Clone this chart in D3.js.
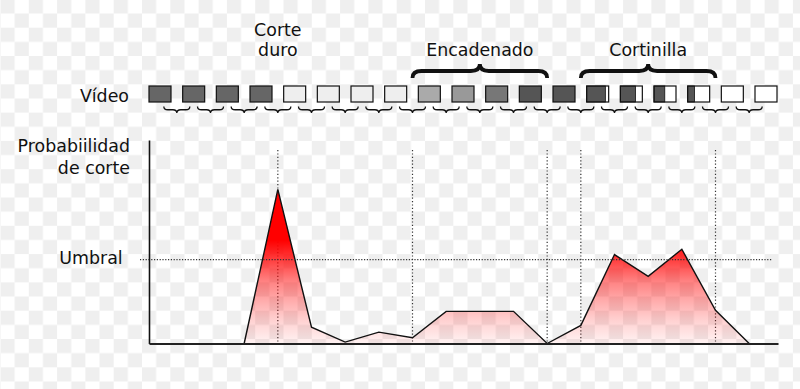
<!DOCTYPE html>
<html>
<head>
<meta charset="utf-8">
<script src="https://cdn.jsdelivr.net/npm/d3@7"></script>
<style>
  html,body{margin:0;padding:0;background:#fff;}
  svg text{font-family:"DejaVu Sans",sans-serif;font-size:17.4px;fill:#111;}
</style>
</head>
<body>
<div id="Chart"></div>
<script>
// frames of the video strip (1..19)
const frameIds = d3.range(1, 20)
const frameFill = ["#666","#666","#666","#666","#eee","#eee","#eee","#eee","#aaa","#999","#777","#555","#555","#555","#555","#555","#555","#fff","#fff"]
const frameWipe = [1,1,1,1,1,1,1,1,1,1,1,1,1,0.85,0.69,0.49,0.31,1,1]

// cut probability, measured at the gap after frame i
const gapIds = [3,4,5,6,7,8,9,10,11,12,13,14,15,16,17,18]
const cutProb = [0,0.757,0.08,0.007,0.056,0.028,0.158,0.158,0.158,0,0.089,0.437,0.33,0.463,0.163,0]
const threshold = 0.412

// transitions
const transLabels = [["Corte","duro"],["Encadenado"],["Cortinilla"]]
const transStart = [4, 8, 13]
const transEnd = [4, 12, 17]
const markerGaps = [4, 8, 12, 13, 17]

const Width = 800, Height = 389
const svg = d3.select("#Chart").append("svg")
    .attr("width", Width).attr("height", Height)

var defs = svg.append("defs")
var pat = defs.append("pattern") //fake transparency background
    .attr("id","checker").attr("patternUnits","userSpaceOnUse")
    .attr("x",0.5).attr("y",-0.6).attr("width",28.3).attr("height",28.3)
pat.append("rect").attr("width",28.3).attr("height",28.3).attr("fill","#fff")
pat.append("rect").attr("width",14.15).attr("height",14.15).attr("fill","#efefef")
pat.append("rect").attr("x",14.15).attr("y",14.15).attr("width",14.15).attr("height",14.15).attr("fill","#efefef")
svg.append("rect").attr("width",Width).attr("height",Height).attr("fill","url(#checker)")

var X = d3.scaleLinear().domain([1,19]).range([160,766])
var Y = d3.scaleLinear().domain([0,1]).range([343.5,140])
var gx = g => X(g + 0.5)
var fw = 22, fh = 16, fy = 86

// red fade under the curve
var grad = defs.append("linearGradient").attr("id","fade")
    .attr("gradientUnits","userSpaceOnUse")
    .attr("x1",0).attr("x2",0).attr("y1",Y(d3.max(cutProb))).attr("y2",Y(0))
;[[0,1],[0.33,1],[0.46,0.75],[0.59,0.5],[0.72,0.33],[0.85,0.18],[1,0.05]].forEach(s=>{
  grad.append("stop").attr("offset",s[0]).attr("stop-color","#ff0000").attr("stop-opacity",s[1])
})

// video strip
svg.append("text").attr("x",129).attr("y",101.7).attr("text-anchor","end").text("Vídeo")
var fr = svg.append("g").selectAll("g").data(frameIds).enter().append("g")
fr.append("rect")
    .attr("x",d=>X(d)-fw/2).attr("y",fy).attr("width",fw).attr("height",fh)
    .attr("fill","#fff")
fr.append("rect")
    .attr("x",d=>X(d)-fw/2).attr("y",fy)
    .attr("width",(d,i)=>fw*frameWipe[i]).attr("height",fh)
    .attr("fill",(d,i)=>frameFill[i])
    .attr("stroke",(d,i)=>frameWipe[i]<1?"#111":"none").attr("stroke-width",0.8)
fr.append("rect")
    .attr("x",d=>X(d)-fw/2).attr("y",fy).attr("width",fw).attr("height",fh)
    .attr("fill","none").attr("stroke","#111").attr("stroke-width",1.2)

// brace path, dir=1 tip down, dir=-1 tip up
function brace(x0,x1,yArm,h,r,dir){
  var xm=(x0+x1)/2, yBar=yArm+dir*h/2, yTip=yArm+dir*h
  return `M${x0},${yArm}Q${x0},${yBar} ${x0+r},${yBar}L${xm-r},${yBar}Q${xm},${yBar} ${xm},${yTip}`+
         `Q${xm},${yBar} ${xm+r},${yBar}L${x1-r},${yBar}Q${x1},${yBar} ${x1},${yArm}`
}
svg.append("g").selectAll("path").data(d3.range(1,19)).enter().append("path")
    .attr("d",g=>brace(gx(g)-13,gx(g)+13,106.5,6.5,4,1))
    .attr("fill","none").attr("stroke","#111").attr("stroke-width",1.3)

// transition labels and big braces
transLabels.forEach((lab,i)=>{
  var cx=(gx(transStart[i])+gx(transEnd[i]))/2
  var top = 56 - (lab.length-1)*20.5
  lab.forEach((t,j)=>{
    svg.append("text").attr("x",cx).attr("y",top+j*20.5).attr("text-anchor","middle").text(t)
  })
  if(transEnd[i]>transStart[i]){
    svg.append("path")
      .attr("d",brace(gx(transStart[i]),gx(transEnd[i]),78,14,9,-1))
      .attr("fill","none").attr("stroke","#111").attr("stroke-width",3.8)
  }
})

// markers
svg.append("g").selectAll("line").data(markerGaps).enter().append("line")
    .attr("x1",gx).attr("x2",gx).attr("y1",150).attr("y2",Y(0))
    .attr("stroke","#333").attr("stroke-width",1.2).attr("stroke-dasharray","1.2,2.2")

// probability curve
var pts = gapIds.map((g,i)=>[gx(g),Y(cutProb[i])])
svg.append("path").datum(pts)
    .attr("d",d3.area().x(d=>d[0]).y0(Y(0)).y1(d=>d[1]))
    .attr("fill","url(#fade)")
svg.append("path").datum(pts)
    .attr("d",d3.line())
    .attr("fill","none").attr("stroke","#111").attr("stroke-width",1.4).attr("stroke-linejoin","miter")

// threshold
svg.append("line").attr("x1",140).attr("x2",772).attr("y1",Y(threshold)).attr("y2",Y(threshold))
    .attr("stroke","#333").attr("stroke-width",1.2).attr("stroke-dasharray","1.2,1.6")

// axes, no ticks
var yAxis = svg.append("g").attr("transform","translate(149,0)")
    .call(d3.axisLeft(Y).tickValues([]).tickSizeOuter(0))
var xAxis = svg.append("g").attr("transform",`translate(0,${Y(0)})`)
    .call(d3.axisBottom(X.copy().domain([X.invert(149),X.invert(778)]).range([149,778])).tickValues([]).tickSizeOuter(0))
yAxis.select(".domain").attr("stroke","#111").attr("stroke-width",1.6)
xAxis.select(".domain").attr("stroke","#222").attr("stroke-width",2.2)

svg.append("text").attr("x",130).attr("y",151.7).attr("text-anchor","end").text("Probabiilidad")
svg.append("text").attr("x",130).attr("y",174.3).attr("text-anchor","end").text("de corte")
svg.append("text").attr("x",122.7).attr("y",264.3).attr("text-anchor","end").text("Umbral")
</script>
</body>
</html>
